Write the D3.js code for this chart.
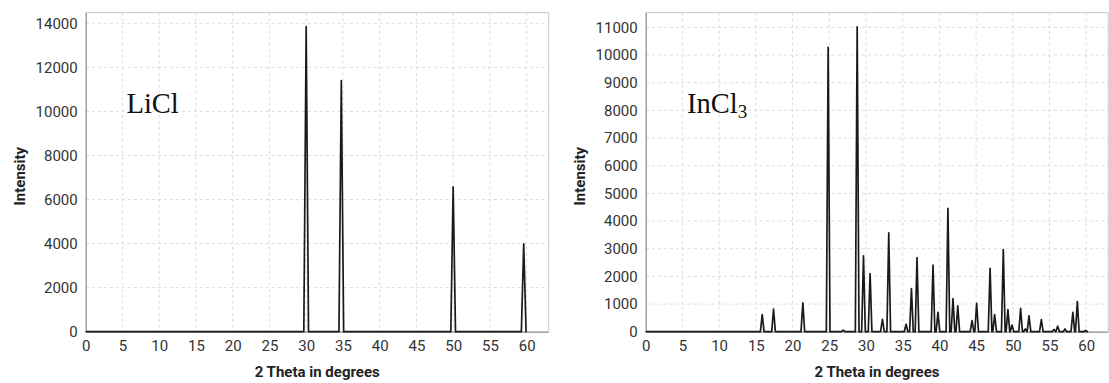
<!DOCTYPE html>
<html>
<head>
<meta charset="utf-8">
<script src="https://cdn.jsdelivr.net/npm/d3@7"></script>
<style>
  html, body { margin: 0; padding: 0; background: #fff; }
  svg { display: block; }
</style>
</head>
<body>
<svg id="chart" width="1109" height="383"></svg>
<script>
// ---- Data ----
const xTicks = [0, 5, 10, 15, 20, 25, 30, 35, 40, 45, 50, 55, 60];

// LiCl diffraction peaks (2θ in degrees, intensity)
const liclPos = [30.0, 34.78, 50.0, 59.6];
const liclInt = [13850, 11400, 6580, 3990];
const liclYTicks = [0, 2000, 4000, 6000, 8000, 10000, 12000, 14000];

// InCl3 diffraction peaks
const inclPos = [15.87, 17.41, 21.4, 24.85, 26.9, 28.8, 29.66, 30.56, 32.24, 33.1,
                 35.46, 36.19, 36.95, 39.13, 39.8, 41.16, 41.85, 42.5, 44.44, 45.07,
                 46.9, 47.52, 48.7, 49.33, 49.88, 51.06, 51.7, 52.2, 53.88, 55.6,
                 56.1, 57.1, 58.17, 58.78, 59.9];
const inclInt = [620, 820, 1040, 10280, 60, 11020, 2740, 2100, 450, 3570,
                 267, 1560, 2680, 2410, 700, 4460, 1200, 930, 400, 1026,
                 2290, 620, 2970, 800, 242, 840, 100, 575, 440, 80,
                 200, 100, 700, 1090, 50];
const inclYTicks = [0, 1000, 2000, 3000, 4000, 5000, 6000, 7000, 8000, 9000, 10000, 11000];

const xStart = 0, xEnd = 60;

// ---- Drawing ----
const svg = d3.select("#chart");

function buildProfile(pos, inten, hw) {
  const pts = [[xStart, 0]];
  pos.forEach((p, i) => {
    pts.push([p - hw, 0]);
    pts.push([p, inten[i]]);
    pts.push([p + hw, 0]);
  });
  pts.push([xEnd, 0]);
  return pts;
}

function drawPanel(cfg) {
  const g = svg.append("g");
  const x = d3.scaleLinear().domain([0, 63]).range([cfg.left, cfg.right]);
  const y = d3.scaleLinear().domain([0, cfg.yMax]).range([cfg.bottom, cfg.top]);

  // gridlines
  g.append("g").selectAll("line").data(xTicks.slice(1)).join("line")
    .attr("x1", d => x(d)).attr("x2", d => x(d))
    .attr("y1", cfg.top).attr("y2", cfg.bottom)
    .attr("stroke", "#dcdcdc").attr("stroke-width", 1).attr("stroke-dasharray", "3,3");
  g.append("g").selectAll("line").data(cfg.yTicks.slice(1)).join("line")
    .attr("x1", cfg.left).attr("x2", cfg.right)
    .attr("y1", d => y(d)).attr("y2", d => y(d))
    .attr("stroke", "#dcdcdc").attr("stroke-width", 1).attr("stroke-dasharray", "3,3");

  // border (top/right)
  g.append("path")
    .attr("d", `M${cfg.left},${cfg.top}H${cfg.right}V${cfg.bottom}`)
    .attr("fill", "none").attr("stroke", "#c8c8c8").attr("stroke-width", 1);

  // axes
  const fmt = d3.format("d");
  const xAxis = d3.axisBottom(x).tickValues(xTicks).tickFormat(fmt).tickSize(0).tickPadding(9);
  const yAxis = d3.axisLeft(y).tickValues(cfg.yTicks).tickFormat(fmt).tickSize(0).tickPadding(8);
  const gx = g.append("g").attr("transform", `translate(0,${cfg.bottom})`).call(xAxis);
  const gy = g.append("g").attr("transform", `translate(${cfg.left},0)`).call(yAxis);
  [gx, gy].forEach(a => {
    a.select(".domain").attr("stroke", "#8a8a8a").attr("stroke-width", 1.2);
    a.selectAll("text").attr("font-family", "Roboto, sans-serif")
      .attr("font-size", 15).attr("fill", "#333");
  });
  gx.select(".domain").attr("d", `M${cfg.left},0.5H${cfg.right}`);
  gy.select(".domain").attr("d", `M0.5,${cfg.bottom}V${cfg.top}`);

  // data line
  const line = d3.line().x(d => x(d[0])).y(d => y(d[1]));
  g.append("path")
    .datum(buildProfile(cfg.pos, cfg.inten, cfg.hw))
    .attr("d", line)
    .attr("fill", "none").attr("stroke", "#1a1a1a")
    .attr("stroke-width", 1.7).attr("stroke-linejoin", "round");

  // axis titles
  g.append("text")
    .attr("x", (cfg.left + cfg.right) / 2).attr("y", 376.5)
    .attr("text-anchor", "middle")
    .attr("font-family", "Roboto, sans-serif").attr("font-weight", "bold")
    .attr("font-size", 15).attr("fill", "#222")
    .text("2 Theta in degrees");
  g.append("text")
    .attr("transform", `translate(${cfg.ylabX},${(cfg.top + cfg.bottom) / 2 + 4}) rotate(-90)`)
    .attr("text-anchor", "middle")
    .attr("font-family", "Roboto, sans-serif").attr("font-weight", "bold")
    .attr("font-size", 15).attr("fill", "#222")
    .text("Intensity");

  // sample label
  const lab = g.append("text")
    .attr("x", cfg.labX).attr("y", 112.5)
    .attr("font-family", "'Liberation Serif', 'Times New Roman', serif")
    .attr("font-size", 28.5).attr("fill", "#111");
  lab.append("tspan").text(cfg.label);
  if (cfg.sub) {
    lab.append("tspan").attr("dy", 5).attr("font-size", 19).text(cfg.sub);
  }
}

drawPanel({
  left: 85.7, right: 548.7, top: 12.7, bottom: 331.7, yMax: 14480,
  yTicks: liclYTicks, pos: liclPos, inten: liclInt, hw: 0.32,
  ylabX: 24.5, labX: 126.5, label: "LiCl"
});
drawPanel({
  left: 645.7, right: 1108.3, top: 12.7, bottom: 331.7, yMax: 11530,
  yTicks: inclYTicks, pos: inclPos, inten: inclInt, hw: 0.25,
  ylabX: 584.5, labX: 687, label: "InCl", sub: "3"
});
</script>
</body>
</html>
